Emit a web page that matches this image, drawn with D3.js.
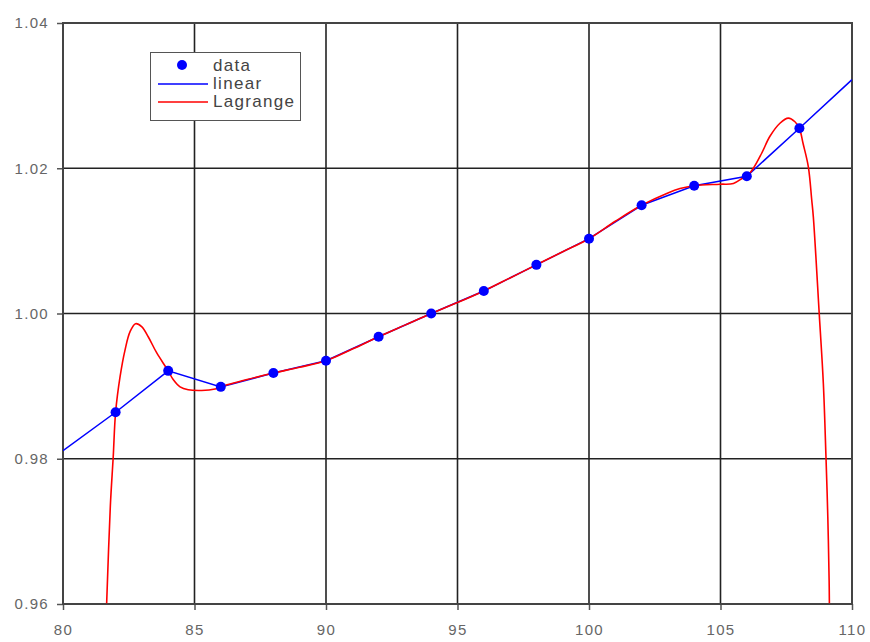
<!DOCTYPE html>
<html>
<head>
<meta charset="utf-8">
<script src="https://cdn.jsdelivr.net/npm/d3@7"></script>
<style>
  body { margin: 0; background: #fff; }
  .tick text { font-family: "Liberation Sans", Arial, sans-serif; font-size: 15px; letter-spacing: 1.3px; fill: #666; }
  .legend text { font-family: "Liberation Sans", Arial, sans-serif; font-size: 17px; letter-spacing: 1.3px; fill: #444; }
</style>
</head>
<body>
<div id="chart"></div>
<script>
// data points
var dataX = [82, 84, 86, 88, 90, 92, 94, 96, 98, 100, 102, 104, 106, 108];
var dataY = [0.9864, 0.9921, 0.9899, 0.9918, 0.9935, 0.9968, 1.0000, 1.0031, 1.0067, 1.0103, 1.0149, 1.0176, 1.0189, 1.0255];

// linear interpolation line, extended to the axis ends
var linearX = [80, 82, 84, 86, 88, 90, 92, 94, 96, 98, 100, 102, 104, 106, 108, 110];
var linearY = [0.9811, 0.9864, 0.9921, 0.9899, 0.9918, 0.9935, 0.9968, 1.0000, 1.0031, 1.0067, 1.0103, 1.0149, 1.0176, 1.0189, 1.0255, 1.0322];

// Lagrange curve
var lagX = [81.66, 81.80, 81.91, 82.0, 82.17, 82.36, 82.55, 82.76, 82.99, 83.24, 83.56, 84.0, 84.19, 84.45, 84.76, 85.27, 85.78, 86,
  87, 88, 89, 90, 91, 92, 93, 94, 95, 96, 97, 98, 99, 100, 101, 102, 103, 103.46, 104, 104.98, 105.49, 105.87, 106,
  106.25, 106.57, 106.88, 107.26, 107.58, 107.83, 108, 108.14, 108.34, 108.47, 108.53, 108.76, 108.91, 109.01, 109.08, 109.13, 109.14];
var lagY = [0.9601, 0.9735, 0.9803, 0.9864, 0.9913, 0.9950, 0.9975, 0.9986, 0.9982, 0.9968, 0.9946, 0.9921, 0.9909, 0.9899, 0.9895, 0.9894, 0.9896, 0.9899,
  0.9909, 0.9918, 0.9926, 0.9935, 0.9951, 0.9968, 0.9984, 1.0000, 1.0015, 1.0031, 1.0049, 1.0067, 1.0085, 1.0103, 1.0127, 1.0149, 1.0166, 1.0172, 1.0176, 1.0178, 1.0179, 1.0187, 1.0189,
  1.0200, 1.0221, 1.0244, 1.0262, 1.0269, 1.0264, 1.0255, 1.0234, 1.0202, 1.0156, 1.0133, 0.9996, 0.9904, 0.9803, 0.9720, 0.9633, 0.9601];

var xTicks = [80, 85, 90, 95, 100, 105, 110];
var yTicks = [0.96, 0.98, 1.00, 1.02, 1.04];

var svgWidth = 870;
var svgHeight = 642;
var margin = { top: 23, right: 18, bottom: 38, left: 63 };
var width = svgWidth - margin.left - margin.right;
var height = svgHeight - margin.top - margin.bottom;

var svg = d3.select("#chart").append("svg")
  .attr("width", svgWidth)
  .attr("height", svgHeight);

var chartGroup = svg.append("g")
  .attr("transform", `translate(${margin.left}, ${margin.top})`);

var xScale = d3.scaleLinear().domain([80, 110]).range([0, width]);
var yScale = d3.scaleLinear().domain([0.96, 1.04]).range([height, 0]);

svg.append("defs").append("clipPath").attr("id", "clip")
  .append("rect").attr("width", width).attr("height", height);

// gridlines
chartGroup.append("g").selectAll("line").data(xTicks).enter().append("line")
  .attr("x1", d => xScale(d)).attr("x2", d => xScale(d))
  .attr("y1", 0).attr("y2", height)
  .attr("stroke", "#222").attr("stroke-width", 1.6);
chartGroup.append("g").selectAll("line").data(yTicks).enter().append("line")
  .attr("x1", 0).attr("x2", width)
  .attr("y1", d => yScale(d)).attr("y2", d => yScale(d))
  .attr("stroke", "#222").attr("stroke-width", 1.6);

// axes
var bottomAxis = d3.axisBottom(xScale).tickValues(xTicks).tickSize(6).tickPadding(14).tickFormat(d3.format("d"));
var leftAxis = d3.axisLeft(yScale).tickValues(yTicks).tickSize(6).tickPadding(8).tickFormat(d3.format(".2f"));

var xAxis = chartGroup.append("g")
  .attr("transform", `translate(0, ${height})`)
  .call(bottomAxis);
var yAxis = chartGroup.append("g").call(leftAxis);
[xAxis, yAxis].forEach(function(ax) {
  ax.select(".domain").remove();
  ax.selectAll(".tick line").attr("stroke", "#555").attr("stroke-width", 1.5);
});

// plot frame
chartGroup.append("rect")
  .attr("width", width).attr("height", height)
  .attr("fill", "none").attr("stroke", "#444").attr("stroke-width", 2);

var plot = chartGroup.append("g").attr("clip-path", "url(#clip)");

var linearLine = d3.line()
  .x((d, i) => xScale(linearX[i]))
  .y((d, i) => yScale(linearY[i]));
plot.append("path")
  .datum(linearX)
  .attr("d", linearLine)
  .attr("fill", "none").attr("stroke", "#0000ff").attr("stroke-width", 1.5);

var lagLine = d3.line()
  .x((d, i) => xScale(lagX[i]))
  .y((d, i) => yScale(lagY[i]))
  .curve(d3.curveCatmullRom.alpha(0.5));
plot.append("path")
  .datum(lagX)
  .attr("d", lagLine)
  .attr("fill", "none").attr("stroke", "#ff0000").attr("stroke-width", 1.6);

plot.selectAll("circle").data(dataX).enter().append("circle")
  .attr("cx", d => xScale(d))
  .attr("cy", (d, i) => yScale(dataY[i]))
  .attr("r", 5)
  .attr("fill", "#0000ff");

// legend
var legend = svg.append("g").attr("class", "legend");
legend.append("rect")
  .attr("x", 150.5).attr("y", 52.5).attr("width", 150).attr("height", 68)
  .attr("fill", "#fff").attr("stroke", "#555").attr("stroke-width", 1);
legend.append("circle").attr("cx", 182).attr("cy", 65).attr("r", 5).attr("fill", "#0000ff");
legend.append("text").attr("x", 213).attr("y", 71).text("data");
legend.append("line").attr("x1", 158).attr("x2", 208).attr("y1", 84).attr("y2", 84)
  .attr("stroke", "#0000ff").attr("stroke-width", 1.5);
legend.append("text").attr("x", 213).attr("y", 89).text("linear");
legend.append("line").attr("x1", 158).attr("x2", 208).attr("y1", 102).attr("y2", 102)
  .attr("stroke", "#ff0000").attr("stroke-width", 1.5);
legend.append("text").attr("x", 213).attr("y", 107).text("Lagrange");
</script>
</body>
</html>
